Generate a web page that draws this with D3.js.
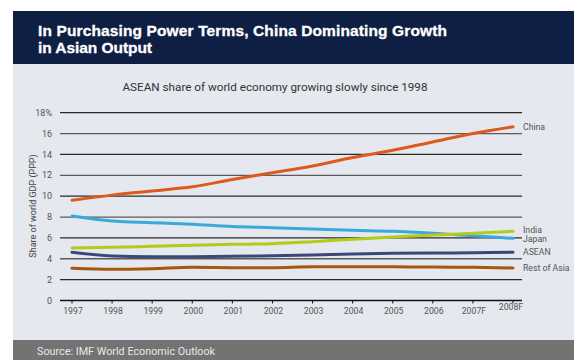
<!DOCTYPE html>
<html><head><meta charset="utf-8">
<script src="https://cdn.jsdelivr.net/npm/d3@7"></script>
<style>body{margin:0;background:#fff;}svg{display:block;}</style>
</head><body>
<svg id="c" width="574" height="360"></svg>
<script>
const years = ["1997","1998","1999","2000","2001","2002","2003","2004","2005","2006","2007F","2008F"];
const china = [9.6,10.1,10.5,10.9,11.6,12.25,12.9,13.7,14.4,15.2,16.0,16.65];
const japan = [8.1,7.62,7.46,7.3,7.1,6.98,6.86,6.73,6.63,6.44,6.2,5.96];
const india = [5.03,5.1,5.2,5.29,5.38,5.45,5.64,5.87,6.09,6.28,6.44,6.63];
const asean = [4.62,4.27,4.2,4.2,4.23,4.3,4.36,4.46,4.52,4.55,4.58,4.62];
const restOfAsia = [3.08,2.99,3.05,3.18,3.15,3.15,3.24,3.24,3.24,3.2,3.18,3.12];
const yTicks = [0,2,4,6,8,10,12,14,16,18];
const seriesNames = ["China","Japan","India","ASEAN","Rest of Asia"];
const seriesColors = ["#dc5a1b","#3ba8dc","#b4cb1a","#3a4a78","#a6560f"];
const seriesData = [china, japan, india, asean, restOfAsia];
const labelOrder = ["China","India","Japan","ASEAN","Rest of Asia"];
const labelYOffsets = {"China":0,"India":0.1,"Japan":-0.05,"ASEAN":0,"Rest of Asia":-0.05};
const titleLines = ["In Purchasing Power Terms, China Dominating Growth","in Asian Output"];
const titleWidths = [409,114];

const svg = d3.select("#c");
svg.append("rect").attr("x",13).attr("y",11).attr("width",561).attr("height",53).attr("fill","#0f1f44");
svg.append("rect").attr("x",13).attr("y",64).attr("width",561).attr("height",276).attr("fill","#e5e8ee");
svg.append("rect").attr("x",13).attr("y",340).attr("width",561).attr("height",20).attr("fill","#737373");

titleLines.forEach((t,i)=>{
  svg.append("text").attr("x",38).attr("y",36+i*17).attr("fill","#fff").attr("stroke","#fff").attr("stroke-width",0.3)
    .attr("textLength",titleWidths[i]).attr("lengthAdjust","spacing")
    .attr("font-family","Liberation Sans, Arial, sans-serif").attr("font-weight","bold").attr("font-size",15.5).text(t);
});

svg.append("text").attr("x",37).attr("y",355).attr("fill","#e8e8e8").attr("font-family","Roboto, Liberation Sans, sans-serif").attr("font-size",10.8).text("Source: IMF World Economic Outlook");

svg.append("text").attr("x",275).attr("y",91).attr("text-anchor","middle").attr("fill","#333").attr("font-family","Roboto, Liberation Sans, sans-serif").attr("font-size",11.7).text("ASEAN share of world economy growing slowly since 1998");

const x = d3.scalePoint().domain(years).range([72,513]);
const y = d3.scaleLinear().domain([0,18]).range([300.5,112.7]);
const xL = 60, xR = 522;

const g = svg.append("g");
yTicks.filter(t=>t>0).forEach(t=>{
  g.append("line").attr("x1",xL).attr("x2",xR).attr("y1",y(t)).attr("y2",y(t)).attr("stroke",t%4===2?"#2a2a2a":"#5a5a5a").attr("stroke-width",1.3);
});
g.append("line").attr("x1",xL).attr("x2",xR).attr("y1",y(0)).attr("y2",y(0)).attr("stroke","#111").attr("stroke-width",1.3);

yTicks.forEach(t=>{
  svg.append("text").attr("x",52).attr("y",y(t)).attr("dy","0.35em").attr("text-anchor","end").attr("fill","#555").attr("font-family","Roboto, Liberation Sans, sans-serif").attr("font-size",9).text(t===18?"18%":t);
});
svg.append("text").attr("transform","translate(36,206) rotate(-90)").attr("text-anchor","middle").attr("fill","#444").attr("font-family","Roboto, Liberation Sans, sans-serif").attr("font-size",9).text("Share of world GDP (PPP)");

years.forEach((yr,i)=>{
  svg.append("line").attr("x1",x(yr)).attr("x2",x(yr)).attr("y1",y(0)).attr("y2",y(0)+3).attr("stroke","#111").attr("stroke-width",1);
  const last = i===years.length-1;
  svg.append("text").attr("x",x(yr)+(last?-2:1)).attr("y",last?310:314).attr("text-anchor","middle").attr("fill","#555").attr("font-family","Roboto, Liberation Sans, sans-serif").attr("font-size",8.7).text(yr);
});

const line = d3.line().x((d,i)=>x(years[i])).y(d=>y(d)).curve(d3.curveMonotoneX);
seriesData.forEach((s,k)=>{
  svg.append("path").attr("d",line(s)).attr("fill","none").attr("stroke",seriesColors[k]).attr("stroke-width",3).attr("stroke-linecap","round");
});

labelOrder.forEach(n=>{
  const k = seriesNames.indexOf(n);
  const v = seriesData[k][seriesData[k].length-1];
  svg.append("text").attr("x",523).attr("y",y(v)-labelYOffsets[n]*10).attr("dy","0.35em").attr("fill","#555").attr("font-family","Roboto, Liberation Sans, sans-serif").attr("font-size",8.7).text(n);
});
</script>
</body></html>
